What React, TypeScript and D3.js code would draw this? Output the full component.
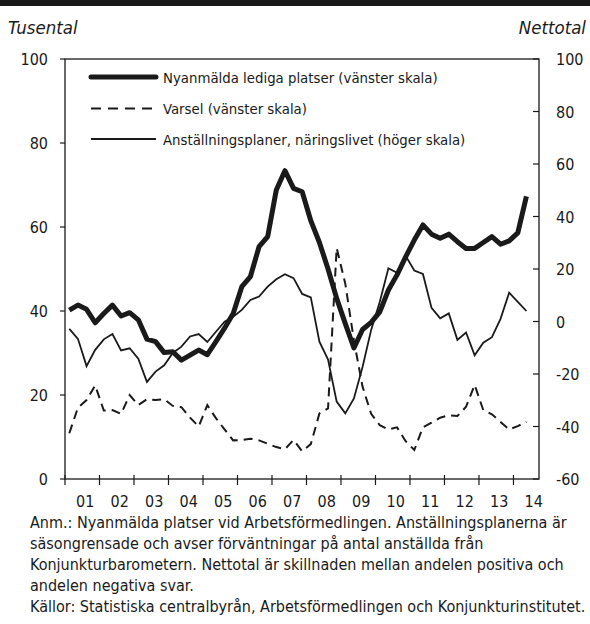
import React from 'react';
import * as d3 from 'd3';

const startYear = 2001;
const yearLabels = ['01', '02', '03', '04', '05', '06', '07', '08', '09', '10', '11', '12', '13', '14'];

// Nyanmälda lediga platser, tusental (vänster skala), kvartal 2001K1–2014K2
const vacancies = [
  40.2, 41.4, 40.4, 37.2, 39.4, 41.4, 38.8, 39.6, 37.9, 33.3, 32.7, 30.1, 30.3, 28.3,
  29.5, 30.7, 29.6, 32.7, 35.9, 39.4, 45.8, 48.2, 55.3, 57.7, 68.8, 73.4, 69.2, 68.4,
  61.5, 56.3, 50.0, 43.0, 37.0, 31.2, 35.6, 37.3, 39.8, 45.0, 48.6, 52.9, 56.9, 60.5,
  58.3, 57.3, 58.3, 56.5, 54.9, 54.9, 56.3, 57.7, 55.9, 56.7, 58.6, 67.3,
];

// Varsel, tusental (vänster skala)
const layoffs = [
  10.9, 17.0, 18.8, 22.3, 16.3, 16.4, 15.5, 20.0, 17.6, 19.0, 18.8, 19.0, 17.4, 17.1,
  14.6, 12.5, 17.6, 14.5, 11.8, 9.2, 9.3, 9.6, 9.2, 8.4, 7.6, 7.1, 9.3, 6.6,
  8.3, 15.6, 16.8, 55.0, 46.5, 33.0, 22.0, 15.5, 12.8, 11.8, 12.3, 9.0, 6.9, 12.3,
  13.4, 14.6, 15.2, 15.0, 17.2, 22.4, 16.4, 15.4, 13.6, 11.8, 12.6, 13.6,
];

// Anställningsplaner, näringslivet, nettotal (höger skala)
const hiringPlans = [
  -2.8, -6.6, -17.0, -10.8, -6.8, -4.8, -11.0, -10.2, -14.2, -23.0, -19.1, -16.7, -12.0, -9.6,
  -5.7, -4.8, -7.8, -3.9, -0.1, 1.8, 4.4, 8.2, 9.5, 13.3, 16.1, 18.0, 16.5, 10.5,
  9.2, -7.7, -14.5, -30.5, -35.0, -29.3, -17.3, -3.2, 7.5, 20.3, 18.6, 25.0, 19.4, 18.1,
  5.2, 1.2, 3.1, -7.0, -4.2, -12.9, -8.1, -6.0, 1.0, 11.0, 7.5, 4.0,
];

const leftTicks = [0, 20, 40, 60, 80, 100];
const rightTicks = [-60, -40, -20, 0, 20, 40, 60, 80, 100];

const legendLabels = [
  'Nyanmälda lediga platser (vänster skala)',
  'Varsel (vänster skala)',
  'Anställningsplaner, näringslivet (höger skala)',
];

const noteLines = [
  'Anm.: Nyanmälda platser vid Arbetsförmedlingen. Anställningsplanerna är',
  'säsongrensade och avser förväntningar på antal anställda från',
  'Konjunkturbarometern. Nettotal är skillnaden mellan andelen positiva och',
  'andelen negativa svar.',
  'Källor: Statistiska centralbyrån, Arbetsförmedlingen och Konjunkturinstitutet.',
];

const FONT = "'Liberation Sans Narrow', 'DejaVu Sans Condensed', 'Arial Narrow', sans-serif";
const INK = '#1a1a1a';

export default function App() {
  const W = 590;
  const H = 624;
  const left = 65;
  const right = 539;
  const top = 59;
  const bottom = 479;

  const x = d3.scaleLinear().domain([startYear, 2014.74]).range([left, right]);
  const yL = d3.scaleLinear().domain([0, 100]).range([bottom, top]);
  const yR = d3.scaleLinear().domain([-60, 100]).range([bottom, top]);
  const t = (i: number) => startYear + (i + 0.5) / 4;

  const lineL = d3
    .line<number>()
    .x((_, i) => x(t(i)))
    .y((d) => yL(d));
  const lineR = d3
    .line<number>()
    .x((_, i) => x(t(i)))
    .y((d) => yR(d));

  const years = yearLabels.map((_, k) => startYear + k);

  const legendY = [77, 108.5, 139];
  const legendStyles = [
    { w: 5, dash: undefined as string | undefined },
    { w: 2, dash: '10 7' },
    { w: 2, dash: undefined },
  ];

  return (
    <svg
      width={W}
      height={H}
      viewBox={`0 0 ${W} ${H}`}
      style={{ position: 'absolute', left: 0, top: 0, background: '#fff' }}
      fontFamily={FONT}
    >
      <rect x={0} y={0} width={W} height={H} fill="#fff" />
      <rect x={0} y={0} width={W} height={6} fill={INK} />

      <text x={8} y={34} fontSize={18.5} fontStyle="italic" fill={INK}>
        Tusental
      </text>
      <text x={586} y={34} fontSize={18.5} fontStyle="italic" fill={INK} textAnchor="end">
        Nettotal
      </text>

      {/* frame */}
      <rect x={left} y={top} width={right - left} height={bottom - top} fill="none" stroke={INK} strokeWidth={1.3} />

      {/* left ticks */}
      {leftTicks.map((v) => (
        <g key={'l' + v}>
          <line x1={left - 5} x2={left} y1={yL(v)} y2={yL(v)} stroke={INK} strokeWidth={1.2} />
          <text x={48} y={yL(v) + 6} fontSize={16} textAnchor="end" fill={INK}>
            {v}
          </text>
        </g>
      ))}

      {/* right ticks */}
      {rightTicks.map((v) => (
        <g key={'r' + v}>
          <line x1={right - 6} x2={right} y1={yR(v)} y2={yR(v)} stroke={INK} strokeWidth={1.2} />
          <text x={556} y={yR(v) + 6} fontSize={16} textAnchor="start" fill={INK}>
            {v}
          </text>
        </g>
      ))}

      {/* x ticks and labels */}
      {years.map((yr, k) => (
        <g key={'x' + yr}>
          <line x1={x(yr)} x2={x(yr)} y1={bottom - 4} y2={bottom + 6} stroke={INK} strokeWidth={1.2} />
          <text x={x(yr + 0.5) + 3} y={507} fontSize={16} textAnchor="middle" fill={INK}>
            {yearLabels[k]}
          </text>
        </g>
      ))}

      {/* series */}
      <path d={lineL(layoffs) || ''} fill="none" stroke={INK} strokeWidth={2} strokeDasharray="9 6" />
      <path d={lineR(hiringPlans) || ''} fill="none" stroke={INK} strokeWidth={1.8} />
      <path d={lineL(vacancies) || ''} fill="none" stroke={INK} strokeWidth={5} strokeLinejoin="round" />

      {/* legend */}
      {legendLabels.map((lab, k) => (
        <g key={'lg' + k}>
          <line
            x1={91}
            x2={156}
            y1={legendY[k]}
            y2={legendY[k]}
            stroke={INK}
            strokeWidth={legendStyles[k].w}
            strokeDasharray={legendStyles[k].dash}
            strokeLinecap={k === 0 ? 'round' : 'butt'}
          />
          <text x={163} y={legendY[k] + 5.5} fontSize={14.8} fill={INK}>
            {lab}
          </text>
        </g>
      ))}

      {/* notes */}
      {noteLines.map((ln, k) => (
        <text key={'n' + k} x={30} y={528 + k * 21} fontSize={16} fill={INK}>
          {ln}
        </text>
      ))}
    </svg>
  );
}
